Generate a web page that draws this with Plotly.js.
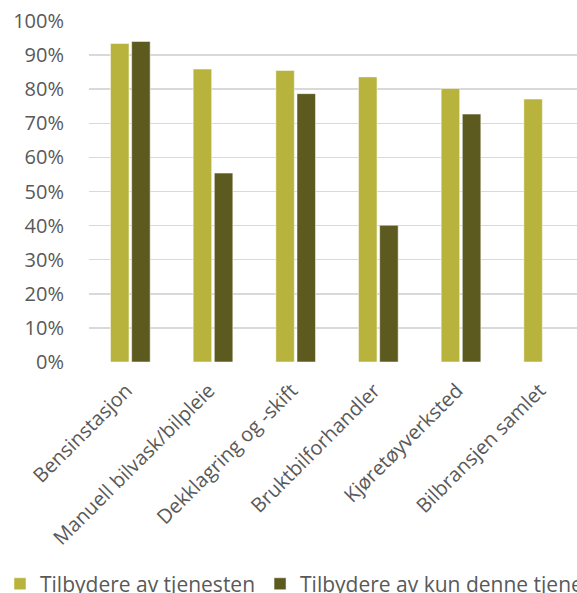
<!DOCTYPE html>
<html>
<head>
<meta charset="utf-8">
<script src="https://cdn.plot.ly/plotly-3.0.1.min.js"></script>
<style>
html,body{margin:0;padding:0;overflow:hidden;background:#fff;}
#chart{width:900px;height:593px;}
</style>
</head>
<body>
<div id="chart"></div>
<script>
const categories = ['Bensinstasjon','Manuell bilvask/bilpleie','Dekklagring og -skift','Bruktbilforhandler','Kjøretøyverksted','Bilbransjen samlet'];
const tilbydereAvTjenesten = [0.934, 0.859, 0.855, 0.836, 0.802, 0.771];
const tilbydereAvKunDenne = [0.940, 0.554, 0.787, 0.401, 0.727, null];
const seriesNames = ['Tilbydere av tjenesten', 'Tilbydere av kun denne tjenesten'];

const font = 'Open Sans, Calibri, Carlito, sans-serif';
const traces = [
  {type:'bar', name:seriesNames[0], x:categories, y:tilbydereAvTjenesten,
   marker:{color:'#b7b33d', line:{color:'rgba(255,255,255,0.5)', width:1}}, hoverinfo:'skip'},
  {type:'bar', name:seriesNames[1], x:categories, y:tilbydereAvKunDenne,
   marker:{color:'#5c5a1f', line:{color:'rgba(255,255,255,0.5)', width:1}}, hoverinfo:'skip'}
];
const layout = {
  width:900, height:593,
  margin:{l:89, r:15, t:21, b:231},
  paper_bgcolor:'#fff', plot_bgcolor:'#fff',
  font:{family:font, size:20, color:'#595959'},
  barmode:'group', bargap:0.488, bargroupgap:0.125,
  xaxis:{type:'category', range:[-0.5,9.129], tickangle:-45, showgrid:false, zeroline:false,
         showline:false, ticks:'', ticklabelstandoff:12, ticklabelshift:-4,
         tickfont:{size:20, color:'#595959'}},
  yaxis:{range:[0,1], dtick:0.1, tickformat:'.0%', showgrid:true, gridcolor:'#d9d9d9', gridwidth:1.5,
         zeroline:false, showline:false, ticks:'outside', ticklen:20, tickcolor:'rgba(0,0,0,0)',
         tickfont:{size:20, color:'#595959'}},
  showlegend:true,
  legend:{orientation:'h', xref:'container', yref:'container', x:-0.008, y:0.015, xanchor:'left', yanchor:'middle',
          font:{size:21, color:'#595959'}, itemwidth:30, traceorder:'normal'}
};
Plotly.newPlot('chart', traces, layout, {staticPlot:true, displayModeBar:false});
</script>
</body>
</html>
